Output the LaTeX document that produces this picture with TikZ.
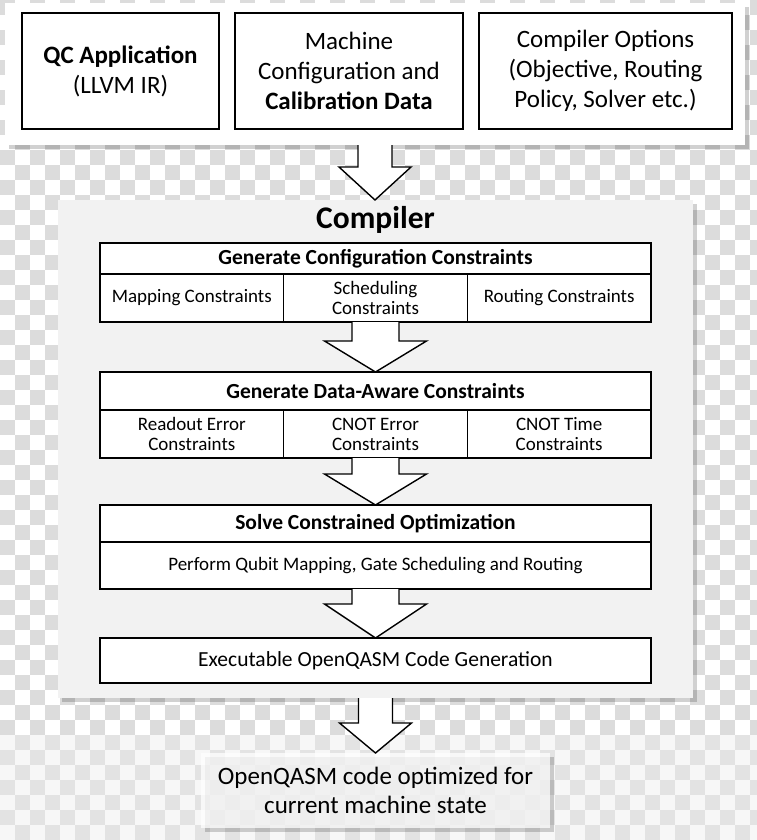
\documentclass[tikz,border=0pt]{standalone}
\usepackage{fontspec}
\setmainfont{Carlito}
\usetikzlibrary{positioning}
\usetikzlibrary{calc}

\definecolor{checkgray}{HTML}{DCDCDC}
\definecolor{panelgray}{HTML}{F2F2F2}

% block arrow: shaft half width, head half width, head length, from, to
\newcommand{\fatarrow}[5]{%
  \draw[fat] let \p1=(#4.south), \p2=(#5.north) in
    (\x1-#1pt,\y1) -- (\x1-#1pt,\y2+#3pt) -- (\x1-#2pt,\y2+#3pt) -- (\x1,\y2)
    -- (\x1+#2pt,\y2+#3pt) -- (\x1+#1pt,\y2+#3pt) -- (\x1+#1pt,\y1);}

\begin{document}
\begin{tikzpicture}[x=1pt,y=-1pt]
  \tikzset{panel/.style = {inner sep=0pt, outer sep=0pt,
             preaction={fill=black, opacity=0.18, transform canvas={xshift=4pt,yshift=-4pt}}},
           box/.style = {draw, line width=1.6pt, fill=white, inner sep=0pt, outer sep=0pt, align=center},
           inbox/.style = {box, minimum height=116pt, font=\fontsize{25}{30}\selectfont},
           head/.style = {box, minimum width=551pt, font=\bfseries\fontsize{21.5}{24}\selectfont},
           sub/.style = {box, minimum width=183.67pt, minimum height=48pt, font=\fontsize{19}{20}\selectfont},
           fat/.style = {fill=white, draw, line width=1.4pt, line join=miter}}
  \useasboundingbox (0,0) rectangle (757,840);

  % background checker
  \foreach \j in {0,...,48}{\foreach \i in {0,2,...,50}{
      \pgfmathtruncatemacro\k{\i+mod(\j,2)}
      \fill[checkgray] (\k*15,\j*15) rectangle ++(15,15);}}
  \fill[gray!6] (0,735) rectangle (757,840);
  \foreach \j in {49,...,55}{\foreach \i in {0,2,...,50}{
      \pgfmathtruncatemacro\k{\i+mod(\j,2)}
      \fill[gray!22] (\k*15,\j*15) rectangle ++(15,15);}}

  % inputs
  \node[panel, fill=white, minimum width=740pt, minimum height=142pt] (inputs) at (375,74) {};
  \node[inbox, minimum width=197pt] (app) at (120.5,71) {\textbf{QC Application}\\(LLVM IR)};
  \node[inbox, minimum width=228pt] (machine) at (349,71) {Machine\\Configuration and\\\textbf{Calibration Data}};
  \node[inbox, minimum width=253pt] (options) at (605.5,71) {Compiler Options\\(Objective, Routing\\Policy, Solver etc.)};

  % compiler
  \node[panel, fill=panelgray, minimum width=635pt, minimum height=498pt] (compiler) at (375.5,449) {};
  \node[font=\bfseries\fontsize{31.5}{34}\selectfont] (title) at (375.5,220) {Compiler};

  \node[head, minimum height=31pt] (config) at (375.5,258.5) {Generate Configuration Constraints};
  \node[sub, anchor=north west] (mapping) at (config.south west) {Mapping Constraints};
  \node[sub, right=0pt of mapping] (scheduling) {Scheduling\\Constraints};
  \node[sub, right=0pt of scheduling] (routing) {Routing Constraints};

  \node[head, minimum height=38pt] (data) at (375.5,391) {Generate Data-Aware Constraints};
  \node[sub, anchor=north west] (readout) at (data.south west) {Readout Error\\Constraints};
  \node[sub, right=0pt of readout] (cnoterr) {CNOT Error\\Constraints};
  \node[sub, right=0pt of cnoterr] (cnottime) {CNOT Time\\Constraints};

  \node[head, minimum height=37pt] (solve) at (375.5,523.5) {Solve Constrained Optimization};
  \node[box, minimum width=551pt, minimum height=47pt, anchor=north, font=\fontsize{19}{22}\selectfont]
       (perform) at (solve.south) {Perform Qubit Mapping, Gate Scheduling and Routing};

  \node[box, minimum width=551pt, minimum height=45pt, font=\fontsize{21.5}{24}\selectfont]
       (codegen) at (375.5,660.5) {Executable OpenQASM Code Generation};

  % output
  \node[panel, fill=white, fill opacity=0.75, text opacity=1, minimum width=349pt, minimum height=75pt,
        align=center, font=\fontsize{25}{29}\selectfont] (output) at (375.5,790.5)
       {OpenQASM code optimized for\\current machine state};

  % block arrows
  \fatarrow{17}{36}{33}{inputs}{compiler}
  \fatarrow{23.5}{51}{31}{scheduling}{data}
  \fatarrow{23.5}{51}{31}{cnoterr}{solve}
  \fatarrow{23.5}{51}{34}{perform}{codegen}
  \fatarrow{17}{36}{30}{compiler}{output}
\end{tikzpicture}
\end{document}
